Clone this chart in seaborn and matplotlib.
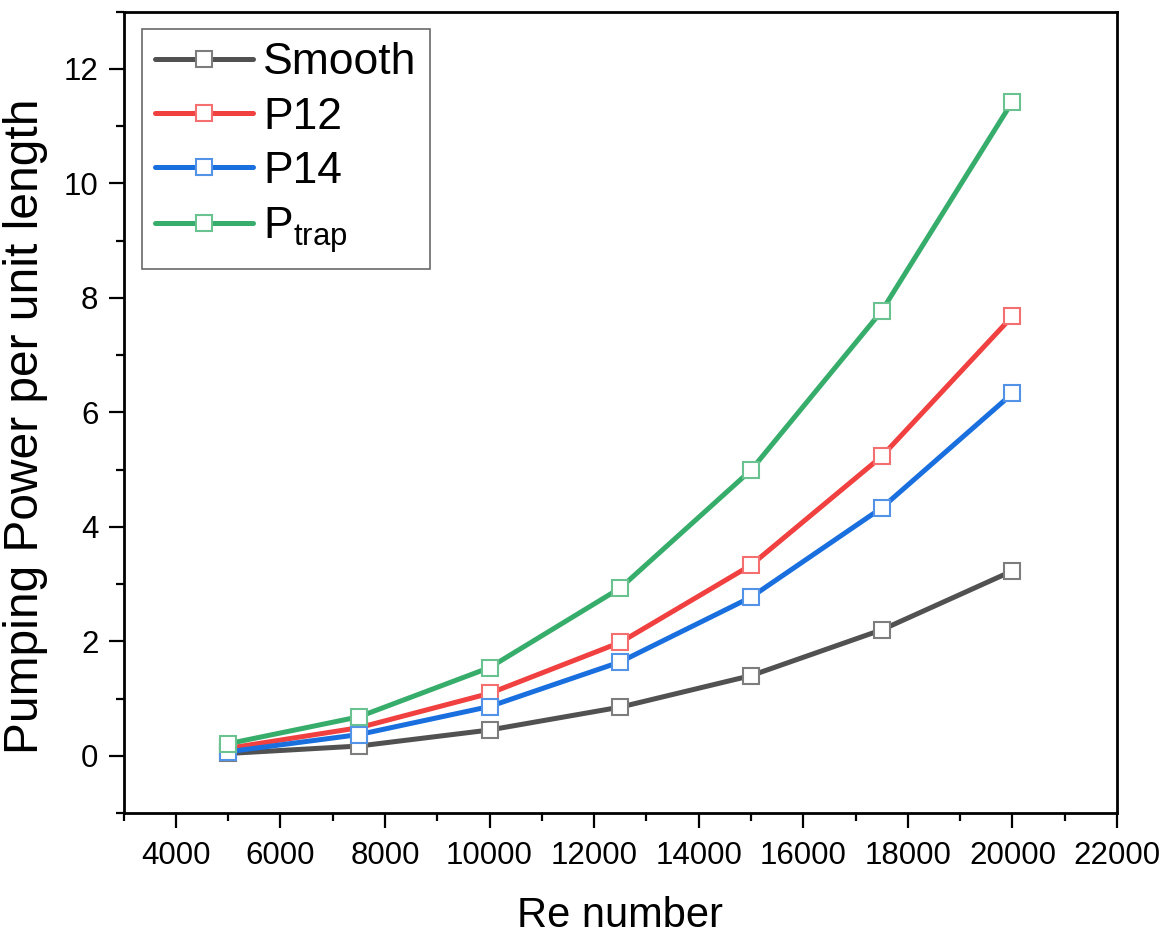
import matplotlib
matplotlib.use("Agg")
import matplotlib.pyplot as plt
import matplotlib.colors as mcolors
from matplotlib.ticker import MultipleLocator
import numpy as np
import pandas as pd
import seaborn as sns

# Reynolds numbers and pumping power per unit length for each channel
re_number = [5000, 7500, 10000, 12500, 15000, 17500, 20000]
smooth = [0.04, 0.17, 0.45, 0.85, 1.40, 2.20, 3.23]
p12 = [0.13, 0.49, 1.09, 1.98, 3.33, 5.23, 7.68]
p14 = [0.07, 0.37, 0.86, 1.64, 2.77, 4.33, 6.33]
p_trap = [0.21, 0.68, 1.54, 2.93, 4.99, 7.77, 11.43]

series_names = ["Smooth", "P12", "P14", r"P$_{\mathrm{trap}}$"]
series_values = [smooth, p12, p14, p_trap]
colors = ["#515151", "#F14040", "#1A6FDF", "#37AD6B"]

sns.set_theme(style="ticks")
plt.rcParams["font.family"] = ["Liberation Sans", "DejaVu Sans"]
plt.rcParams["mathtext.fontset"] = "custom"
plt.rcParams["mathtext.rm"] = "Liberation Sans"
plt.rcParams["mathtext.it"] = "Liberation Sans:italic"
plt.rcParams["mathtext.bf"] = "Liberation Sans:bold"
plt.rcParams["text.color"] = "black"
plt.rcParams["axes.labelcolor"] = "black"
plt.rcParams["xtick.color"] = "black"
plt.rcParams["ytick.color"] = "black"

df = pd.concat(
    [pd.DataFrame({"Re": re_number, "power": vals, "series": name})
     for name, vals in zip(series_names, series_values)],
    ignore_index=True,
)

fig = plt.figure(figsize=(11.72, 9.35), dpi=100)
ax = fig.add_axes([123.5 / 1172, 1 - 813 / 935, (1117 - 123.5) / 1172, (813 - 11.7) / 935])

for name, color in zip(series_names, colors):
    sub = df[df["series"] == name]
    edge = mcolors.to_rgb(color)
    edge = tuple(0.75 * c + 0.25 for c in edge)
    sns.lineplot(
        data=sub, x="Re", y="power", ax=ax, color=color, label=name,
        linewidth=3.6, marker="s", markersize=11.5, markerfacecolor="white",
        markeredgecolor=edge, markeredgewidth=1.5, estimator=None, sort=False,
    )

ax.set_xlim(3000, 22000)
ax.set_ylim(-1, 13)
ax.xaxis.set_major_locator(MultipleLocator(2000))
ax.xaxis.set_minor_locator(MultipleLocator(1000))
ax.yaxis.set_major_locator(MultipleLocator(2))
ax.yaxis.set_minor_locator(MultipleLocator(1))
ax.set_xticks(np.arange(4000, 22001, 2000))

for side in ["left", "right", "top", "bottom"]:
    ax.spines[side].set_visible(True)
    ax.spines[side].set_linewidth(2.0)
    ax.spines[side].set_color("black")

ax.tick_params(axis="both", which="major", direction="out", length=11, width=1.6,
               labelsize=22.5, color="black", labelcolor="black")
ax.tick_params(axis="x", which="major", pad=9)
ax.tick_params(axis="y", which="major", pad=7)
ax.tick_params(axis="both", which="minor", direction="out", length=5.5, width=1.6, color="black")
ax.tick_params(top=False, right=False, which="both")

ax.set_xlabel("Re number", fontsize=30, labelpad=18, color="black")
ax.set_ylabel("Pumping Power per unit length", fontsize=34.5, color="black")
ax.yaxis.set_label_coords(-0.076, 0.483)

leg = ax.legend(
    loc="upper left", bbox_to_anchor=(18.5 / 993.5, 1 - 17.3 / 801.3),
    borderaxespad=0, fontsize=32, frameon=True, fancybox=False, shadow=False,
    handlelength=2.2, handletextpad=0.22, labelspacing=0.3, borderpad=0.3,
)
for t in leg.get_texts():
    t.set_color("black")
leg.get_frame().set_edgecolor("#444444")
leg.get_frame().set_linewidth(1.2)

fig.savefig("out.png", dpi=100, facecolor="white")
